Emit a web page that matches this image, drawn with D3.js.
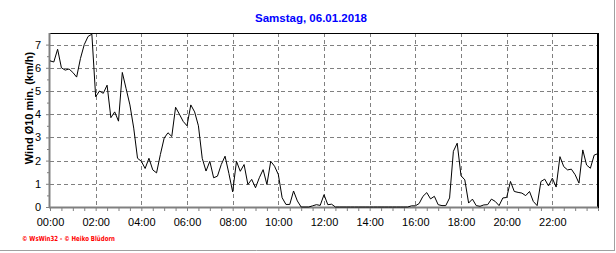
<!DOCTYPE html>
<html>
<head>
<meta charset="utf-8">
<script src="https://cdn.jsdelivr.net/npm/d3@7"></script>
<style>
  body { margin: 0; background: #fff; }
  svg { display: block; font-family: "Liberation Sans", Arial, sans-serif; }
</style>
</head>
<body>
<div id="chart"></div>
<script>
// wind, 10 min mean (km/h), one value every 10 minutes from 00:00 to 24:00
var windValues = [
  6.3, 6.25, 6.8, 6.0, 5.9, 5.95, 5.8, 5.6, 6.4, 7.0, 7.35, 7.45,
  4.75, 5.0, 4.9, 5.25, 3.85, 4.1, 3.7, 5.8, 5.1, 4.4, 3.4, 2.1,
  1.97, 1.66, 2.1, 1.6, 1.47, 2.26, 2.97, 3.2, 3.04, 4.3, 4.0, 3.69,
  3.5, 4.4, 4.1, 3.5, 2.1, 1.55, 1.97, 1.26, 1.33, 1.83, 2.19, 1.45,
  0.65, 1.97, 1.54, 1.83, 0.97, 1.19, 0.83, 1.26, 1.61, 0.97, 1.97, 1.76,
  1.4, 0.4, 0.11, 0.11, 0.69, 0.26, 0, 0, 0, 0.05, 0.1, 0.07,
  0.53, 0.1, 0.12, 0, 0, 0, 0, 0, 0, 0, 0, 0,
  0, 0, 0, 0, 0, 0, 0, 0, 0, 0, 0, 0.05,
  0.05, 0.15, 0.46, 0.62, 0.35, 0.46, 0.1, 0.06, 0.06, 0.39, 2.4, 2.75,
  1.35, 1.17, 0.17, 0.34, 0.06, 0.03, 0.09, 0.1, 0.34, 0.24, 0.06, 0.39,
  0.41, 1.1, 0.67, 0.63, 0.6, 0.49, 0.67, 0.24, 0.06, 1.1, 1.2, 0.91,
  1.24, 0.86, 2.17, 1.74, 1.6, 1.63, 1.39, 1.03, 2.46, 1.81, 1.67, 2.24,
  2.3
];
var stepMinutes = 10;

var xTickHours = [0, 2, 4, 6, 8, 10, 12, 14, 16, 18, 20, 22];
var xTickLabels = ['00:00', '02:00', '04:00', '06:00', '08:00', '10:00',
                   '12:00', '14:00', '16:00', '18:00', '20:00', '22:00'];
var yTickValues = [0, 1, 2, 3, 4, 5, 6, 7];

var titleText = 'Samstag, 06.01.2018';
var yLabelText = 'Wind \u00d810 min. (km/h)';
var creditText = '\u00a9 WsWin32  -  \u00a9 Heiko Bl\u00fcdorn';

var width = 616, height = 253;
// note: "top" is taken by window.top, so plot edges get their own names
var plotLeft = 50, plotRight = 598, plotTop = 33, plotBottom = 207;
var grey = '#808080';

var svg = d3.select('#chart')
            .append('svg')
            .attr('width', width)
            .attr('height', height);

// outer frame (right + bottom only)
svg.append('line')
    .attr('x1', 614.5).attr('x2', 614.5).attr('y1', 0).attr('y2', 251)
    .style('stroke', '#a0a0a0');
svg.append('line')
    .attr('x1', 0).attr('x2', 615).attr('y1', 250.5).attr('y2', 250.5)
    .style('stroke', '#a0a0a0');

var x = d3.scaleLinear().domain([0, 24]).range([plotLeft, plotRight]);
var y = d3.scaleLinear().domain([0, 7.5]).range([plotBottom, plotTop]);

// dashed grid
svg.append('g')
    .selectAll('line')
    .data(yTickValues.slice(1))
    .enter()
    .append('line')
    .attr('x1', plotLeft).attr('x2', plotRight)
    .attr('y1', function(d) { return Math.round(y(d)) + 0.5; })
    .attr('y2', function(d) { return Math.round(y(d)) + 0.5; })
    .style('stroke', grey)
    .style('stroke-dasharray', '4,3');

svg.append('g')
    .selectAll('line')
    .data(xTickHours.slice(1))
    .enter()
    .append('line')
    .attr('x1', function(d) { return Math.round(x(d)) + 0.5; })
    .attr('x2', function(d) { return Math.round(x(d)) + 0.5; })
    .attr('y1', plotTop).attr('y2', plotBottom)
    .style('stroke', grey)
    .style('stroke-dasharray', '4,3');

// x axis: minor ticks every 30 min, labels every 2 h
var gxMinor = svg.append('g')
    .attr('transform', `translate(0,${plotBottom + 1})`)
    .call(d3.axisBottom(x).tickValues(d3.range(0, 24.01, 0.5)).tickSize(3).tickFormat(''));

var gx = svg.append('g')
    .attr('transform', `translate(0,${plotBottom})`)
    .call(d3.axisBottom(x)
            .tickValues(xTickHours)
            .tickSize(0)
            .tickPadding(11)
            .tickFormat(function(d, i) { return xTickLabels[i]; }));

// y axis
var gyMinor = svg.append('g')
    .attr('transform', `translate(${plotLeft - 1},0)`)
    .call(d3.axisLeft(y).tickValues(d3.range(0.5, 7.5, 1)).tickSize(2).tickFormat(''));

var gy = svg.append('g')
    .attr('transform', `translate(${plotLeft - 1},0)`)
    .call(d3.axisLeft(y).tickValues(yTickValues).tickSize(3).tickPadding(5));

[gxMinor, gx, gyMinor, gy].forEach(function(g) {
    g.select('.domain').remove();
    g.selectAll('line').style('stroke', grey);
    g.selectAll('text')
        .style('font-size', '11px')
        .style('font-family', '"Liberation Sans", Arial, sans-serif')
        .style('fill', '#000');
});

// frame: black top/right, grey thick left/bottom
svg.append('line')
    .attr('x1', plotLeft - 1).attr('x2', plotRight).attr('y1', plotTop + 0.5).attr('y2', plotTop + 0.5)
    .style('stroke', '#000');
svg.append('line')
    .attr('x1', plotRight).attr('x2', plotRight).attr('y1', plotTop).attr('y2', plotBottom + 1)
    .style('stroke', '#000')
    .style('stroke-width', 2);
svg.append('line')
    .attr('x1', plotLeft - 1).attr('x2', plotRight).attr('y1', plotBottom + 0.5).attr('y2', plotBottom + 0.5)
    .style('stroke', grey)
    .style('stroke-width', 2);
svg.append('line')
    .attr('x1', plotLeft - 0.5).attr('x2', plotLeft - 0.5).attr('y1', plotTop).attr('y2', plotBottom + 1)
    .style('stroke', grey)
    .style('stroke-width', 2);

// the wind line
var line = d3.line()
    .x(function(d, i) { return x(i * stepMinutes / 60); })
    .y(function(d) { return y(d); });

svg.append('path')
    .datum(windValues)
    .attr('d', line)
    .style('fill', 'none')
    .style('stroke', '#000')
    .style('stroke-width', 1);

// title
svg.append('text')
    .attr('x', 311)
    .attr('y', 22)
    .attr('text-anchor', 'middle')
    .style('font-size', '11.5px')
    .style('font-weight', 'bold')
    .style('fill', '#0000ff')
    .text(titleText);

// y label
svg.append('text')
    .attr('transform', 'translate(33,108) rotate(-90)')
    .attr('text-anchor', 'middle')
    .style('font-size', '11px')
    .style('font-weight', 'bold')
    .style('fill', '#000')
    .text(yLabelText);

// credits
svg.append('text')
    .attr('x', 22)
    .attr('y', 241)
    .attr('textLength', 93)
    .attr('lengthAdjust', 'spacingAndGlyphs')
    .style('font-family', '"DejaVu Sans", sans-serif')
    .style('font-size', '7px')
    .style('font-weight', 'bold')
    .style('fill', '#ff0000')
    .text(creditText);
</script>
</body>
</html>
